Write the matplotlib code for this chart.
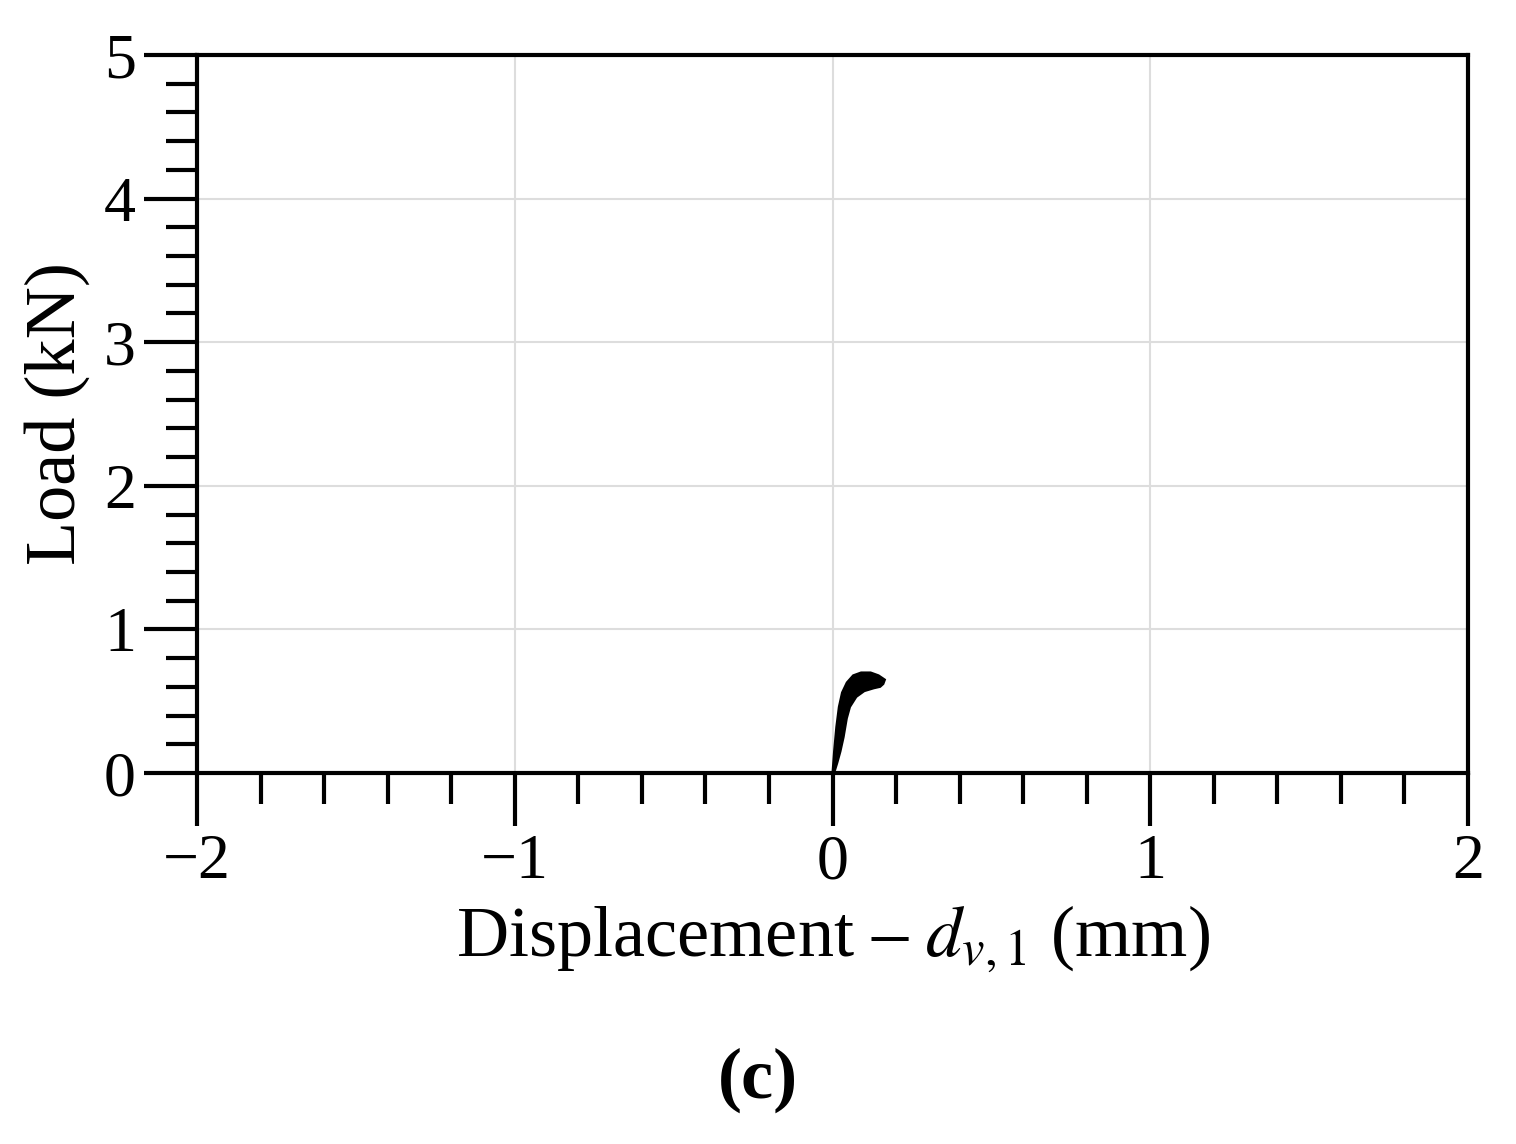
import matplotlib
matplotlib.use("Agg")
import matplotlib.pyplot as plt
from matplotlib.ticker import MultipleLocator

plt.rcParams['font.family'] = ['Liberation Serif', 'DejaVu Serif']
plt.rcParams['mathtext.fontset'] = 'stix'

# outer (upper/left) edge of the hysteresis blob
outer_d = [0.0, 0.005, 0.012, 0.02, 0.03, 0.045, 0.065, 0.09, 0.12, 0.145, 0.165, 0.16, 0.15]
outer_f = [0.0, 0.15, 0.32, 0.46, 0.56, 0.63, 0.68, 0.70, 0.70, 0.68, 0.65, 0.62, 0.60]
# inner (lower/right) edge, returning to origin
inner_d = [0.13, 0.10, 0.075, 0.055, 0.045, 0.035, 0.025, 0.015, 0.008, 0.0]
inner_f = [0.59, 0.57, 0.53, 0.46, 0.38, 0.25, 0.15, 0.07, 0.02, 0.0]

fig = plt.figure(figsize=(15.16, 11.44), dpi=100)
ax = fig.add_axes([197/1516, 1-773/1144, (1468-197)/1516, (773-55)/1144])
ax.fill(outer_d + inner_d, outer_f + inner_f, color='black', lw=1.5, ec='black')

ax.set_xlim(-2, 2)
ax.set_ylim(0, 5)
ax.xaxis.set_major_locator(MultipleLocator(1))
ax.xaxis.set_minor_locator(MultipleLocator(0.2))
ax.yaxis.set_major_locator(MultipleLocator(1))
ax.yaxis.set_minor_locator(MultipleLocator(0.2))
ax.tick_params(which='major', length=38, width=3, labelsize=46, direction='out', pad=6)
ax.tick_params(which='minor', length=22, width=3, direction='out')
for s in ax.spines.values():
    s.set_linewidth(3)
ax.grid(True, which='major', color='#dddddd', lw=1.5)
ax.set_axisbelow(True)
ax.set_xlabel(r'Displacement – $\mathit{d}_{\mathit{v,1}}$ (mm)', fontsize=52, labelpad=8)
ax.set_ylabel('Load (kN)', fontsize=52, labelpad=10)
fig.text(0.5, 1-1080/1144, '(c)', ha='center', va='center', fontsize=52, fontweight='bold')
fig.savefig('out.png', dpi=100)
